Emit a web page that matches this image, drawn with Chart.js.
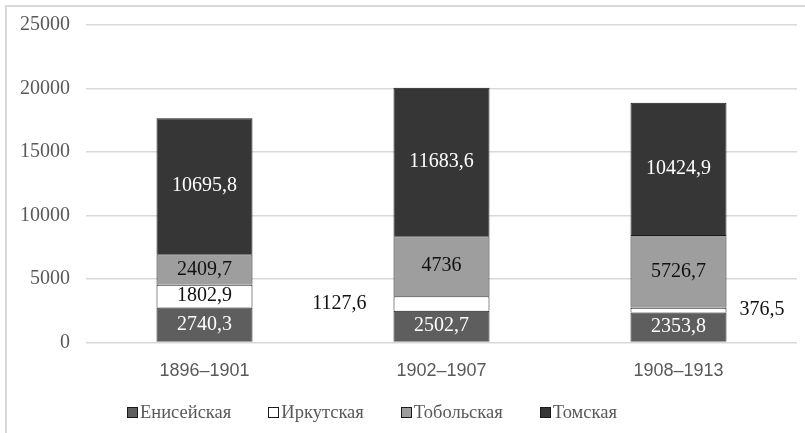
<!DOCTYPE html>
<html>
<head>
<meta charset="utf-8">
<script src="https://cdn.jsdelivr.net/npm/chart.js@4/dist/chart.umd.min.js"></script>
<style>
  body { margin: 0; background: #fff; }
  #wrap { position: relative; width: 805px; height: 433px; }
  #frame { position: absolute; left: 5px; top: 5px; right: 0; bottom: 0;
           border-top: 2px solid #d9d9d9; border-left: 2px solid #d9d9d9; }
  canvas { position: absolute; left: 0; top: 0; }
  #legend { position: absolute; left: 127px; top: 402px; margin: 0; padding: 0; list-style: none;
            display: flex; font: 18.5px 'Liberation Serif', 'Times New Roman', serif; color: #595959; }
  #legend li { display: flex; align-items: center; margin-right: 37px; white-space: nowrap; }
  #legend span { display: inline-block; width: 9px; height: 9px; border: 1px solid #1a1a1a; margin-right: 2px; }
</style>
</head>
<body>
<div id="wrap">
  <div id="frame"></div>
  <canvas id="myChart" width="805" height="433"></canvas>
  <ul id="legend"></ul>
</div>
<script>
// periods and values per province
const periods = ["1896–1901", "1902–1907", "1908–1913"];
const yenisei = [2740.3, 2502.7, 2353.8];
const irkutsk = [1802.9, 1127.6, 376.5];
const tobolsk = [2409.7, 4736, 5726.7];
const tomsk = [10695.8, 11683.6, 10424.9];
const yTicks = [0, 5000, 10000, 15000, 20000, 25000];

// labels that sit beside the bar instead of inside (dataset-index)
const outside = { "1-1": "left", "1-2": "right" };

const serif = "'Liberation Serif', 'Times New Roman', serif";

const dataLabels = {
  id: "dataLabels",
  afterDatasetsDraw(chart) {
    const c = chart.ctx;
    c.save();
    c.font = "20px " + serif;
    c.textBaseline = "middle";
    chart.data.datasets.forEach((ds, di) => {
      const meta = chart.getDatasetMeta(di);
      meta.data.forEach((bar, i) => {
        const txt = String(ds.data[i]).replace(".", ",");
        const y = (bar.y + bar.base) / 2;
        const side = outside[di + "-" + i];
        if (side === "left") {
          c.fillStyle = "#111";
          c.textAlign = "right";
          c.fillText(txt, bar.x - bar.width / 2 - 27, y);
        } else if (side === "right") {
          c.fillStyle = "#111";
          c.textAlign = "left";
          c.fillText(txt, bar.x + bar.width / 2 + 13, y);
        } else {
          c.fillStyle = ds.labelColor;
          c.textAlign = "center";
          c.fillText(txt, bar.x, y);
        }
      });
    });
    c.restore();
  },
};

const common = { borderColor: "#1a1a1a", borderWidth: 1, barPercentage: 0.405, categoryPercentage: 1 };

const config = {
  type: "bar",
  data: {
    labels: periods,
    datasets: [
      { label: "Енисейская", data: yenisei, backgroundColor: "#5e5e5e", labelColor: "#fff", ...common },
      { label: "Иркутская", data: irkutsk, backgroundColor: "#ffffff", labelColor: "#111", ...common },
      { label: "Тобольская", data: tobolsk, backgroundColor: "#9e9e9e", labelColor: "#111", ...common },
      { label: "Томская", data: tomsk, backgroundColor: "#363636", labelColor: "#fff", ...common },
    ],
  },
  options: {
    responsive: false,
    animation: false,
    layout: { padding: { left: 0, right: 8, top: 21, bottom: 41 } },
    plugins: {
      tooltip: { enabled: false },
      legend: { display: false },
    },
    scales: {
      x: {
        stacked: true,
        grid: { display: false },
        border: { display: false },
        ticks: { color: "#595959", padding: 10, font: { family: "'Liberation Sans', Arial, sans-serif", size: 18 } },
      },
      y: {
        stacked: true,
        min: 0,
        max: 25000,
        afterFit(scale) { scale.width = 86; },
        afterBuildTicks(scale) { scale.ticks = yTicks.map((v) => ({ value: v })); },
        grid: { color: "#d9d9d9", lineWidth: 1.5, drawTicks: false },
        border: { display: false },
        ticks: { color: "#595959", padding: 16, font: { family: serif, size: 20, lineHeight: 0.9 }, callback: (v) => String(v) },
      },
    },
  },
  plugins: [dataLabels],
};

const ctx = document.querySelector("#myChart");
const myChart = new Chart(ctx, config);

// legend
const legend = document.querySelector("#legend");
config.data.datasets.forEach((ds) => {
  const li = document.createElement("li");
  li.innerHTML = '<span style="background:' + ds.backgroundColor + '"></span>' + ds.label;
  legend.appendChild(li);
});
</script>
</body>
</html>
